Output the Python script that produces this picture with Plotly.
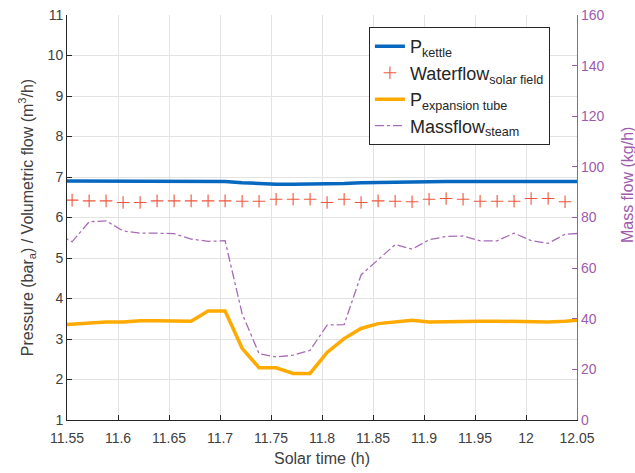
import plotly.graph_objects as go

# ---- data ----
solar_time = [11.5383, 11.5550, 11.5717, 11.5883, 11.6050, 11.6217, 11.6383, 11.6550,
              11.6717, 11.6883, 11.7050, 11.7217, 11.7383, 11.7550, 11.7717, 11.7883,
              11.8050, 11.8217, 11.8383, 11.8550, 11.8717, 11.8883, 11.9050, 11.9217,
              11.9383, 11.9550, 11.9717, 11.9883, 12.0050, 12.0217, 12.0383, 12.0550]

p_kettle = [6.90, 6.90, 6.89, 6.90, 6.90, 6.90, 6.90, 6.89, 6.90, 6.90, 6.89, 6.86,
            6.83, 6.82, 6.82, 6.82, 6.83, 6.84, 6.86, 6.87, 6.88, 6.88, 6.89, 6.89,
            6.89, 6.89, 6.89, 6.89, 6.89, 6.89, 6.89, 6.89]

water_time = solar_time[1:31]
waterflow = [6.43, 6.41, 6.41, 6.37, 6.37, 6.41, 6.41, 6.41, 6.41, 6.41, 6.40, 6.40,
             6.45, 6.45, 6.45, 6.37, 6.45, 6.37, 6.41, 6.40, 6.39, 6.45, 6.47, 6.45,
             6.40, 6.40, 6.40, 6.47, 6.47, 6.39]

p_expansion = [3.34, 3.37, 3.41, 3.42, 3.42, 3.45, 3.45, 3.44, 3.44, 3.69, 3.69, 2.77,
               2.29, 2.29, 2.15, 2.15, 2.67, 3.01, 3.26, 3.38, 3.41, 3.46, 3.42, 3.43,
               3.45, 3.44, 3.44, 3.43, 3.42, 3.42, 3.44, 3.47]

massflow = [74.0, 70.4, 78.3, 78.7, 74.7, 73.8, 73.8, 73.6, 71.5, 70.6, 70.8, 42.0,
            26.2, 24.9, 25.6, 27.5, 37.5, 37.7, 57.3, 63.5, 69.3, 67.5, 71.2, 72.5,
            72.7, 70.8, 70.8, 73.8, 70.9, 69.8, 73.4, 73.8]

x_ticks = [11.55, 11.6, 11.65, 11.7, 11.75, 11.8, 11.85, 11.9, 11.95, 12.0, 12.05]
x_tick_text = ["11.55", "11.6", "11.65", "11.7", "11.75", "11.8", "11.85", "11.9",
               "11.95", "12", "12.05"]

# ---- styles ----
FONT = "Liberation Sans, Arial, sans-serif"
TXT = "#404040"
PURPLE = "#9E5BAE"

fig = go.Figure()
fig.add_trace(go.Scatter(x=solar_time, y=p_kettle, mode="lines",
                         name="P<sub>kettle</sub>",
                         line=dict(color="#0868BF", width=3.5)))
fig.add_trace(go.Scatter(x=water_time, y=waterflow, mode="markers",
                         name="Waterflow<sub>solar field</sub>",
                         marker=dict(symbol="cross-thin-open", size=9,
                                     line=dict(color="#E5602C", width=1.1))))
fig.add_trace(go.Scatter(x=solar_time, y=p_expansion, mode="lines",
                         name="P<sub>expansion tube</sub>",
                         line=dict(color="#FFAA00", width=3.5)))
fig.add_trace(go.Scatter(x=solar_time, y=massflow, mode="lines", yaxis="y2",
                         name="Massflow<sub>steam</sub>",
                         line=dict(color="#A86BB8", width=1.3, dash="dashdot")))

fig.update_layout(
    width=635, height=473,
    margin=dict(l=67, r=58, t=15, b=53),
    paper_bgcolor="white", plot_bgcolor="white",
    font=dict(family=FONT, size=14, color=TXT),
    showlegend=True,
    legend=dict(x=0.592, y=0.97, xanchor="left", yanchor="top",
                bgcolor="white", bordercolor="#262626", borderwidth=1,
                font=dict(size=18, color="#262626"), tracegroupgap=0),
    xaxis=dict(range=[11.55, 12.05], tickvals=x_ticks, ticktext=x_tick_text,
               ticks="inside", ticklen=5, tickcolor="#262626",
               showline=True, linecolor="#262626", linewidth=1,
               showgrid=True, gridcolor="#E3E3E3", gridwidth=1,
               zeroline=False, ticklabelstandoff=5, automargin=False,
               tickfont=dict(size=14, color=TXT),
               title=dict(text="Solar time (h)", font=dict(size=16, color=TXT), standoff=8)),
    yaxis=dict(range=[1, 11], dtick=1, tick0=1,
               ticks="inside", ticklen=5, tickcolor="#262626",
               showline=True, linecolor="#262626", linewidth=1,
               showgrid=True, gridcolor="#E3E3E3", gridwidth=1,
               zeroline=False, automargin=False,
               tickfont=dict(size=14, color=TXT),
               title=dict(text="Pressure (bar<sub>a</sub>) / Volumetric flow (m<sup>3</sup>/h)",
                          font=dict(size=16, color=TXT), standoff=10)),
    yaxis2=dict(range=[0, 160], dtick=20, tick0=0, overlaying="y", side="right",
                ticks="inside", ticklen=5, tickcolor=PURPLE,
                showline=True, linecolor=PURPLE, linewidth=1.2,
                showgrid=False, zeroline=False, automargin=False,
                tickfont=dict(size=14, color=PURPLE)),
    annotations=[dict(text="Mass flow (kg/h)", textangle=-90, showarrow=False,
                      xref="paper", yref="paper", x=1.098, y=0.58,
                      xanchor="center", yanchor="middle",
                      font=dict(size=16, color=PURPLE, family=FONT))],
)

fig.write_html("out.html")
